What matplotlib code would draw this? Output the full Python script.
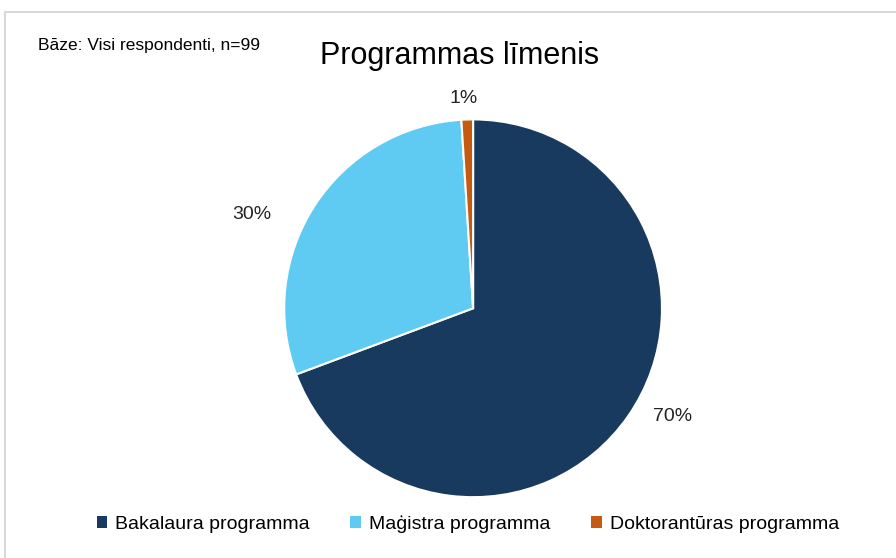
import matplotlib
matplotlib.use("Agg")
import matplotlib.pyplot as plt
import numpy as np
from matplotlib.patches import Patch
from matplotlib.lines import Line2D

# data
categories = ["Bakalaura programma", "Maģistra programma", "Doktorantūras programma"]
shares = [70, 30, 1]
colors = ["#173a5e", "#5fcbf2", "#c55a11"]

plt.rcParams["font.family"] = ["Liberation Sans", "DejaVu Sans"]

fig = plt.figure(figsize=(8.96, 5.58), dpi=100)

# light frame (top + left only visible in the reference)
fig.add_artist(Line2D([0.006, 1.0], [0.978, 0.978], color="#d9d9d9", lw=1.5))
fig.add_artist(Line2D([0.006, 0.006], [0.0, 0.978], color="#d9d9d9", lw=1.5))

ax = fig.add_axes([0.317, 0.109, 0.422, 0.677])
wedges, _ = ax.pie(shares, colors=colors, startangle=90, counterclock=False,
                   wedgeprops=dict(edgecolor="white", linewidth=1.5))
ax.set_xlim(-1, 1)
ax.set_ylim(-1, 1)
ax.set_aspect("equal")

# data labels, placed around the pie (angle in deg, radius factor)
label_pos = [(-28.5, 1.2), (157, 1.27), (92.5, 1.11)]
for v, (ang, r) in zip(shares, label_pos):
    a = np.deg2rad(ang)
    ax.text(r * np.cos(a), r * np.sin(a), f"{v}%", ha="center", va="center",
            fontsize=14, color="#222222", clip_on=False)

fig.text(0.513, 0.90, "Programmas līmenis", ha="center", va="center",
         fontsize=22, color="black")
fig.text(0.042, 0.918, "Bāze: Visi respondenti, n=99", ha="left", va="center",
         fontsize=12.5, color="black")

handles = [Patch(facecolor=c, edgecolor="none") for c in colors]
fig.legend(handles, categories, loc="center", bbox_to_anchor=(0.522, 0.061), ncol=3,
           frameon=False, fontsize=14, handlelength=0.55, handleheight=0.55,
           handletextpad=0.4, columnspacing=2.1)

fig.savefig("out.png", dpi=100)
